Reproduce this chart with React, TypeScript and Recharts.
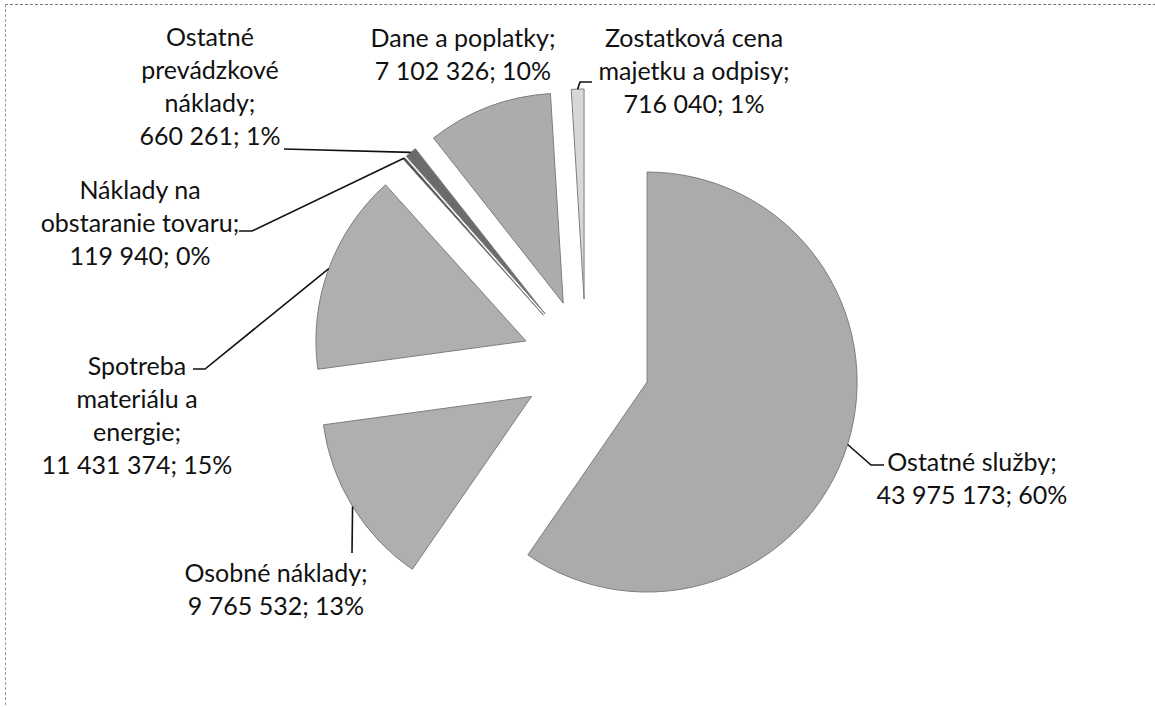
import { PieChart, Pie, Sector } from 'recharts'

// costs by category (EUR)
const categories = [
  'Ostatné služby',
  'Osobné náklady',
  'Spotreba materiálu a energie',
  'Náklady na obstaranie tovaru',
  'Ostatné prevádzkové náklady',
  'Dane a poplatky',
  'Zostatková cena majetku a odpisy',
]
const values = [43975173, 9765532, 11431374, 119940, 660261, 7102326, 716040]

const sliceColors = ['#ababab', '#afafaf', '#afafaf', '#4a4a4a', '#6b6b6b', '#acacac', '#d8d8d8']

// words per label line
const lineBreaks = [[2], [2], [1, 2, 1], [2, 2], [1, 1, 1], [3], [2, 3]]

// label block centre + leader bend points (layout only)
const labelLayout = [
  { x: 972, y: 461, leader: [[871, 465], [884, 465]] },
  { x: 276, y: 572, leader: [[352, 553]] },
  { x: 137, y: 365, leader: [[205, 369], [193, 369]] },
  { x: 140, y: 189, leader: [[252, 231], [239, 231]] },
  { x: 210, y: 36, leader: [[284, 149]] },
  { x: 463, y: 37, leader: null },
  { x: 694, y: 37, leader: [[580, 82], [592, 82]] },
]

const total = values.reduce((a, b) => a + b, 0)
const data = categories.map((name, i) => ({ name, value: values[i] }))

const EXPLODE = 64
const LINE_H = 33
const RAD = Math.PI / 180

const fmt = (v: number) => String(v).replace(/\B(?=(\d{3})+(?!\d))/g, ' ')
const polar = (cx: number, cy: number, r: number, a: number) => ({
  x: cx + Math.cos(-a * RAD) * r,
  y: cy + Math.sin(-a * RAD) * r,
})

function labelLines(i: number) {
  const words = categories[i].split(' ')
  const out: string[] = []
  let k = 0
  lineBreaks[i].forEach((n) => {
    out.push(words.slice(k, k + n).join(' '))
    k += n
  })
  out[out.length - 1] += ';'
  out.push(`${fmt(values[i])}; ${Math.round((values[i] / total) * 100)}%`)
  return out
}

function ExplodedSlice(props: any) {
  const { cx, cy, midAngle, startAngle, endAngle, outerRadius, index } = props
  const off = polar(0, 0, EXPLODE, midAngle)
  const ex = cx + off.x
  const ey = cy + off.y
  const tip = polar(ex, ey, outerRadius, midAngle)
  const pos = labelLayout[index]
  const lines = labelLines(index)
  return (
    <g>
      <Sector
        cx={ex}
        cy={ey}
        innerRadius={0}
        outerRadius={outerRadius}
        startAngle={startAngle}
        endAngle={endAngle}
        fill={sliceColors[index]}
        stroke="#7d7d7d"
        strokeWidth={1}
      />
      {pos.leader && (
        <polyline
          points={[[tip.x, tip.y], ...pos.leader].map((p) => p.join(',')).join(' ')}
          fill="none"
          stroke="#111"
          strokeWidth={1.6}
        />
      )}
      <text
        textAnchor="middle"
        fill="#111"
        style={{ fontFamily: 'Lato, "Open Sans", sans-serif', fontSize: 25 }}
      >
        {lines.map((l, k) => (
          <tspan key={k} x={pos.x} y={pos.y + k * LINE_H} dominantBaseline="central">
            {l}
          </tspan>
        ))}
      </text>
    </g>
  )
}

export default function App() {
  return (
    <div style={{ position: 'absolute', left: 0, top: 0, width: 1155, height: 707, background: '#fff' }}>
      <div
        style={{
          position: 'absolute',
          left: 5,
          top: 4,
          width: 1160,
          height: 720,
          borderTop: '1px dashed #777',
          borderLeft: '1px dashed #999',
        }}
      />
      <PieChart width={1155} height={707} margin={{ top: 0, right: 0, bottom: 0, left: 0 }}>
        <Pie
          data={data}
          dataKey="value"
          nameKey="name"
          cx={586}
          cy={363}
          innerRadius={0}
          outerRadius={210}
          startAngle={90}
          endAngle={-270}
          fill="transparent"
          stroke="none"
          label={ExplodedSlice}
          labelLine={false}
          isAnimationActive={false}
        />
      </PieChart>
    </div>
  )
}
